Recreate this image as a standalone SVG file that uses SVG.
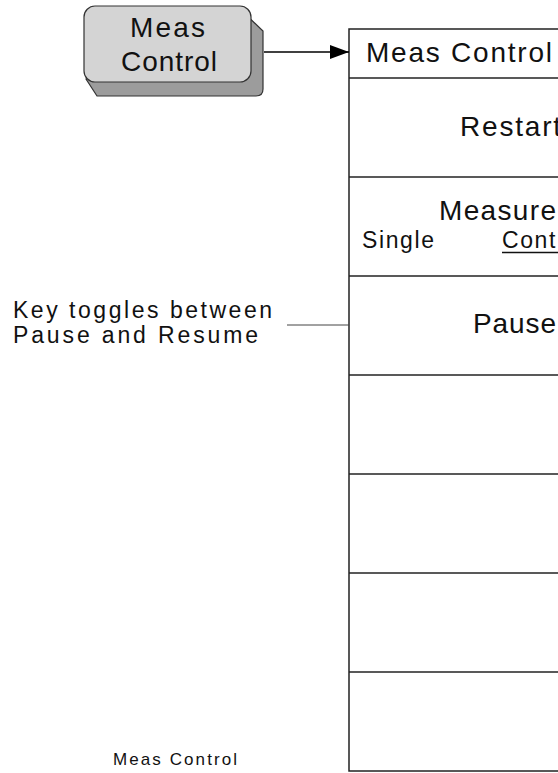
<svg xmlns="http://www.w3.org/2000/svg" width="558" height="773" viewBox="0 0 558 773">
<defs>
<marker id="arrow" markerWidth="20" markerHeight="14" refX="19" refY="7" orient="auto" markerUnits="userSpaceOnUse">
<polygon points="0,0 19,7 0,14" fill="#000"/>
</marker>
<style>
.t{font-family:"Liberation Sans",Arial,sans-serif;fill:#111;}
.big{font-size:28px;letter-spacing:1.8px;}
.sep{stroke:#222;stroke-width:1.5;}
</style>
</defs>
<rect width="558" height="773" fill="#fff"/>
<g id="key">
<path d="M240 9 L263 31 L263 89 Q263 96 256 96 L97 96 L86 79 Z" fill="#9c9c9c" stroke="#333" stroke-width="1.2"/>
<rect x="84" y="6" width="167" height="76" rx="11" fill="#d4d4d4" stroke="#333" stroke-width="1.2"/>
<text class="t" x="167.5" y="37" font-size="28" text-anchor="middle" textLength="75" lengthAdjust="spacing">Meas</text>
<text class="t" x="169" y="71" font-size="28" text-anchor="middle" textLength="96" lengthAdjust="spacing">Control</text>
</g>
<g id="panel">
<rect x="349" y="29" width="230" height="742" fill="#fff" stroke="#222" stroke-width="1.5"/>
<line class="sep" x1="349" y1="78" x2="558" y2="78"/>
<line class="sep" x1="349" y1="177" x2="558" y2="177"/>
<line class="sep" x1="349" y1="276" x2="558" y2="276"/>
<line class="sep" x1="349" y1="375" x2="558" y2="375"/>
<line class="sep" x1="349" y1="474" x2="558" y2="474"/>
<line class="sep" x1="349" y1="573" x2="558" y2="573"/>
<line class="sep" x1="349" y1="672" x2="558" y2="672"/>
<text class="t" x="366" y="62" font-size="28" textLength="186" lengthAdjust="spacing">Meas Control</text>
<text class="t big" x="460" y="136">Restart</text>
<text class="t" x="439" y="220" font-size="28" textLength="117" lengthAdjust="spacing">Measure</text>
<text class="t" x="362" y="248" font-size="23" letter-spacing="1.6">Single</text>
<text class="t" x="502" y="248" font-size="23" letter-spacing="1.6">Cont</text>
<line x1="502" y1="252.5" x2="558" y2="252.5" stroke="#111" stroke-width="1.5"/>
<text class="t" x="473" y="333" font-size="28" textLength="83" lengthAdjust="spacing">Pause</text>
</g>
<g id="label">
<text class="t" x="13" y="318" font-size="23" textLength="259" lengthAdjust="spacing">Key toggles between</text>
<text class="t" x="13" y="343" font-size="23" textLength="245" lengthAdjust="spacing">Pause and Resume</text>
</g>
<g id="caption">
<text class="t" x="113" y="765" font-size="17" textLength="124" lengthAdjust="spacing">Meas Control</text>
</g>
<g id="connectors">
<line x1="264" y1="52" x2="349" y2="52" stroke="#000" stroke-width="1.3" marker-end="url(#arrow)"/>
<line x1="287" y1="325" x2="349" y2="325" stroke="#444" stroke-width="1"/>
</g>
</svg>
